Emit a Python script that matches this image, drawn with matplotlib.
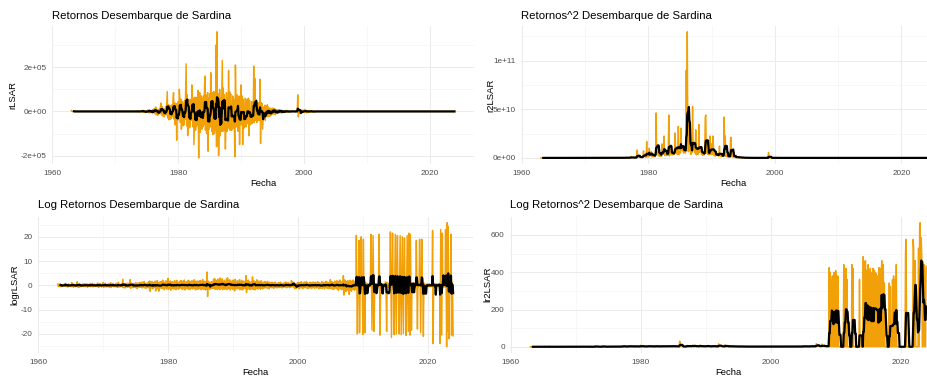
import numpy as np
import pandas as pd
import matplotlib
matplotlib.use("Agg")
import matplotlib.pyplot as plt
import matplotlib.dates as mdates
from matplotlib.ticker import FuncFormatter, MultipleLocator

plt.rcParams["font.family"] = ["Liberation Sans", "DejaVu Sans"]

# monthly series, Jan 1963 - Dec 2023
fecha = pd.date_range("1963-01-01", "2023-12-01", freq="MS")

# sardine landing returns (thousands), one row per year
r_1963_1972 = [4.0] + [0.0] * 119
r_1973_2001 = [
    0, 0, 0, 0, 0, 1, -1, 2, -1, 1, -2, 1,
    2, -1, 3, 4, -3, 5, -4, -2, 3, -5, -1, -2,
    3, -2, 6, 5, -6, 8, -7, 4, -5, -3, 6, -8,
    8, -6, 14, 12, -10, 20, -15, -8, 10, -18, 6, -12,
    12, -8, 20, 38, -15, 22, -20, -10, 14, -25, 8, -16,
    22, -15, 40, 90, -30, 30, -38, -20, 28, -35, 18, -32,
    30, -22, 50, 85, -35, 40, -60, -25, 35, -130, 30, -40,
    45, -30, 100, 60, -50, 55, -80, -30, 45, -65, 35, -60,
    50, -35, 85, 215, -65, 75, -110, -45, 55, -75, 40, -70,
    55, -40, 120, 75, -70, 60, -150, -50, 65, -85, 50, -65,
    65, -50, 95, -210, 45, 85, -95, -55, 70, -80, 55, -70,
    70, -60, 100, 160, -85, 75, -100, -60, 85, -180, 60, -80,
    80, -70, 175, 100, -90, 85, -105, -70, 90, -100, 70, -85,
    300, -160, 360, -150, 80, -200, -85, 100, -110, 60, -90, 75,
    230, -90, 105, -85, 75, -70, -170, -55, 85, -90, 60, -75,
    185, -75, 90, -85, 80, -60, -85, -50, 70, -75, 55, -70,
    -205, 210, 85, -70, 75, -60, -90, -55, 70, -150, 60, -60,
    120, -60, 70, -150, 55, -50, -75, -40, 60, -70, 50, -55,
    55, -40, 60, -110, 50, -40, -60, -35, 45, -55, 40, -50,
    205, -50, 150, -40, 55, -35, -50, -30, 40, -40, 35, -40,
    145, -145, 40, -30, 35, -80, -30, 20, -35, 28, -40, -15,
    25, -20, 30, -25, 20, -18, -22, 15, -20, 12, -15, 10,
    15, -12, 14, -10, 12, -15, -10, 8, -9, 7, -8, 5,
    8, -6, 7, -5, 6, -8, -4, 4, -5, 3, -4, 2,
    3, -2, 3, -2, 2, -3, -1, 2, -2, 1, -1, 1,
    1, -1, 2, -1, 1, -1, -1, 1, -1, 1, 0, 0,
    75, -25, -12, 8, -6, -10, 5, -8, 6, -4, 5, -3,
    6, -5, 8, -4, 5, -7, 3, -4, 5, -3, 4, -2,
    4, -3, 3, -2, 2, -3, 0, 0, 0, 0, 0, 0,
]
r_2002_2023 = [0.0] * 264

# log returns, one row per year
logr_1963_2008 = [
    0.6, -0.4, 0.3, 0.5, -0.6, 0.4, -0.3, 0.2, -0.5, 0.3, -0.2, 0.4,
    -0.3, 0.5, 0.8, -0.6, 0.4, -0.5, 0.3, -0.7, 0.6, -0.2, 0.3, -0.4,
    0.4, -0.6, 1.2, -0.5, 0.7, -0.8, 0.3, -0.4, 0.5, -0.6, 0.2, -0.3,
    1.5, -0.7, 0.6, -0.9, 0.8, -0.5, 0.4, -0.6, 0.3, -0.4, 0.6, -0.5,
    0.5, -0.4, 0.7, -0.6, 0.4, -0.3, 0.6, -0.8, 0.5, -0.2, 0.3, -0.5,
    0.8, -0.6, 0.5, -0.4, 0.9, -0.7, 0.3, -0.5, 0.6, -0.4, 0.2, -0.3,
    0.6, -0.5, 1.0, -0.8, 0.4, -0.6, 0.7, -0.3, 0.5, -0.7, 0.3, -0.4,
    1.2, -0.8, 0.6, -0.5, 0.9, -0.7, 0.4, -0.6, 0.5, -0.3, 0.6, -0.8,
    0.7, -0.5, 1.1, -0.9, 0.5, -0.4, 0.8, -0.6, 0.3, -0.5, 0.4, -0.6,
    0.9, -0.7, 0.6, -0.8, 1.3, -0.6, 0.5, -0.7, 0.4, -0.3, 0.6, -0.5,
    2.5, -1.0, 0.8, -0.9, 0.6, -1.1, 0.7, -0.5, 0.9, -0.8, 0.4, -0.6,
    1.0, -0.8, 2.4, -1.2, 0.9, -0.7, 0.6, -1.0, 0.8, -0.6, 0.5, -0.9,
    1.1, -0.9, 0.8, -1.3, 1.0, -0.6, 0.9, -0.8, 1.2, -0.7, 0.5, -1.0,
    1.4, -1.0, 1.2, -0.8, 1.6, -1.1, 0.7, -1.2, 0.9, -0.6, 1.0, -0.9,
    1.5, -1.2, 1.8, -2.5, 1.3, -0.9, 1.6, -1.4, 0.8, -1.1, 1.2, -0.8,
    1.7, -2.3, 1.4, -1.0, 2.0, -1.5, 1.1, -2.4, 1.3, -0.9, 1.5, -1.2,
    1.6, -1.3, 2.2, -1.1, 1.4, -1.8, 1.2, -0.9, 1.9, -1.5, 1.0, -1.4,
    2.9, -1.6, 1.5, -1.2, 1.8, -2.0, 1.3, -1.1, 1.6, -1.4, 1.2, -1.5,
    1.9, -1.4, 1.6, -1.8, 2.1, -1.2, 1.4, -1.6, 1.1, -1.3, 1.7, -1.0,
    2.0, -1.5, 1.3, -1.7, 1.8, -1.1, 2.2, -1.9, 1.2, -1.4, 1.5, -1.2,
    1.8, -1.6, 2.1, -1.3, 1.5, -1.8, 1.4, -1.2, 1.9, -1.5, 1.1, -1.4,
    2.3, -1.4, 1.7, -1.9, 1.6, -1.2, 1.8, -1.6, 1.3, -1.5, 1.9, -1.1,
    2.0, -1.8, 1.5, -1.3, 2.4, -1.6, 1.2, -1.4, 1.7, -1.9, 1.3, -1.5,
    5.5, -4.6, 1.8, -1.2, 1.4, -1.7, 1.1, -0.9, 1.6, -1.3, 1.2, -1.0,
    2.5, -1.3, 2.8, -1.6, 2.2, -1.4, 1.9, -1.7, 2.6, -1.2, 1.5, -1.8,
    3.0, -1.5, 2.4, -1.1, 2.7, -1.8, 1.6, -1.3, 2.1, -1.6, 1.4, -1.2,
    2.6, -1.7, 3.1, -1.4, 1.9, -1.2, 2.3, -1.9, 1.5, -1.1, 1.8, -1.6,
    2.2, -1.6, 1.7, -2.3, 2.5, -1.3, 1.4, -1.5, 1.9, -1.2, 1.6, -1.4,
    2.4, -1.8, 1.5, -1.2, 2.1, -1.9, 1.3, -1.6, 1.8, -1.1, 1.4, -1.3,
    4.0, -3.0, 1.9, -1.5, 2.2, -1.4, 1.6, -1.8, 1.2, -1.6, 1.5, -1.1,
    3.5, -1.7, 2.0, -1.3, 1.6, -1.9, 1.4, -1.2, 2.3, -1.5, 1.1, -1.4,
    1.8, -1.2, 1.4, -1.6, 1.9, -1.1, 1.3, -1.5, 1.0, -1.2, 1.6, -0.9,
    1.5, -1.1, 1.2, -0.9, 1.7, -1.3, 1.0, -1.4, 1.3, -0.8, 1.1, -1.0,
    1.3, -0.9, 1.1, -1.2, 0.8, -1.0, 1.4, -0.7, 0.9, -1.1, 0.7, -0.8,
    1.2, -1.0, 0.9, -0.7, 1.3, -0.9, 0.8, -1.1, 0.6, -0.8, 1.0, -0.6,
    1.1, -0.8, 1.4, -1.0, 0.7, -0.9, 1.2, -0.6, 0.9, -1.0, 0.5, -0.7,
    2.0, -0.6, 1.5, 1.2, -0.8, 0.9, -1.4, -0.9, 0.6, -1.2, 0.8, -0.7,
    1.3, -1.1, 1.0, -1.4, 1.2, -0.8, 1.5, -1.0, 0.9, -1.3, 1.1, -0.9,
    1.4, -1.0, 1.2, -0.9, 1.6, -1.2, 1.0, -1.3, 0.8, -1.1, 1.3, -0.7,
    1.2, -1.3, 0.9, -1.0, 1.4, -0.8, 1.1, -1.2, 1.3, -0.9, 0.7, -1.1,
    1.5, -0.9, 1.3, -1.4, 1.0, -1.2, 0.8, -1.0, 1.6, -1.3, 1.1, -0.8,
    1.3, -1.5, 1.1, -0.9, 1.7, -1.1, 1.4, -1.2, 0.9, -1.4, 1.2, -1.0,
    2.4, -1.4, 1.6, -1.2, 1.3, -1.7, 1.1, -1.5, 1.8, -1.0, 1.4, -1.3,
    1.9, -1.6, 1.4, -2.0, 1.7, -1.3, 2.2, -1.5, 1.2, -1.8, 1.6, -1.4,
    4.0, -4.0, 2.3, -1.8, 1.9, -2.6, 1.5, -2.1, 2.0, -1.7, 1.4, -3.8,
    2.1, -1.9, 1.8, -2.4, 1.6, -1.5, 2.2, -1.7, 1.4, -2.0, 1.7, -1.3,
]
logr_2009_2023 = [
    20.6, 0.8, -20.0, 1.2, -0.9, 18.5, -19.5, 1.1, -0.7, 20.0, 0.9, -0.6,
    -20.2, 19.0, 1.0, -0.8, -19.5, 1.3, -0.9, 0.6, -0.4, 0.7, -0.5, 0.4,
    0.5, -0.6, 0.8, 21.0, 1.0, -18.5, 0.7, 20.5, -0.8, -19.0, 0.6, -0.5,
    0.7, -0.4, 0.6, -0.5, 0.8, -0.6, 21.0, 1.1, -20.5, 0.9, -0.7, 0.5,
    -0.6, 0.4, -0.5, 0.7, -0.4, 0.6, 1.5, -0.9, -19.0, 1.2, -0.8, 0.6,
    -0.7, 0.9, -0.6, 22.0, 1.2, -21.4, 0.8, 21.5, -1.0, 0.7, -20.3, 1.1,
    21.0, -0.9, -20.0, 1.0, 20.5, -0.8, 1.3, -20.0, 0.9, 20.5, -1.1, -20.3,
    0.8, 20.0, -0.7, -19.8, 1.2, 19.5, -0.9, 1.0, -20.6, 0.7, 20.5, -1.0,
    -19.0, 21.5, -0.8, -20.5, 21.0, 1.1, -18.5, 0.9, -0.7, 0.8, -0.6, 1.0,
    0.6, -0.8, 0.9, 18.5, -0.7, -18.0, 0.8, -0.5, 0.7, 19.0, -0.6, -19.5,
    0.9, 19.0, -0.8, 0.6, -21.0, 1.0, -0.7, 0.5, -0.6, 0.4, -0.5, 0.6,
    -0.4, 0.5, -0.6, 0.7, -0.5, 0.4, -0.6, 0.5, 0.8, 22.6, -24.0, 0.9,
    -0.7, 0.6, -0.5, 0.7, -0.6, 0.5, -0.4, 0.6, -0.5, 0.8, 0.7, -24.0,
    23.0, 0.9, -20.5, 21.5, -0.8, 0.7, -0.6, 0.9, -0.7, 23.0, 0.8, -25.3,
    25.8, -18.8, 24.2, -22.0, 1.1, -0.9, 0.8, 21.0, -20.5, 1.2, -0.8, -20.8,
]

r_lsar = pd.Series(np.array(r_1963_1972 + r_1973_2001 + r_2002_2023, float) * 1e3, index=fecha)
logr_lsar = pd.Series(np.array(logr_1963_2008 + logr_2009_2023, float), index=fecha)

paneles = [
    ("Retornos Desembarque de Sardina", "rLSAR", r_lsar, 2e5, True),
    ("Retornos^2 Desembarque de Sardina", "r2LSAR", r_lsar ** 2, 5e10, True),
    ("Log Retornos Desembarque de Sardina", "logrLSAR", logr_lsar, 10, False),
    ("Log Retornos^2 Desembarque de Sardina", "lr2LSAR", logr_lsar ** 2, 200, False),
]

W, H = 927, 377
# panel boxes in pixels: x0, y0, x1, y1 (y from the top)
cajas = [
    (52.2, 25.5, 473.6, 164.2),
    (521.4, 25.5, 945.5, 164.2),
    (38.0, 216.5, 472.9, 353.0),
    (510.4, 216.5, 945.9, 353.0),
]
ylab_x = [13.3, 490.7, 15.0, 488.3]
titulo_y = [15.7, 15.7, 205.0, 205.0]

fig = plt.figure(figsize=(W / 100, H / 100), dpi=100)

for (titulo, ylab, serie, paso, cientifico), (x0, y0, x1, y1), yx, ty in zip(paneles, cajas, ylab_x, titulo_y):
    ax = fig.add_axes([x0 / W, 1 - y1 / H, (x1 - x0) / W, (y1 - y0) / H])
    media = serie.rolling(6).mean()
    ax.plot(serie.index, serie.values, color="#F2A007", lw=1.05)
    ax.plot(media.index, media.values, color="black", lw=1.6)
    ax.margins(x=0.05, y=0.05)

    ax.xaxis.set_major_locator(mdates.YearLocator(20))
    ax.xaxis.set_minor_locator(mdates.YearLocator(10))
    ax.xaxis.set_major_formatter(mdates.DateFormatter("%Y"))
    ax.yaxis.set_major_locator(MultipleLocator(paso))
    ax.yaxis.set_minor_locator(MultipleLocator(paso / 2))
    if cientifico:
        ax.yaxis.set_major_formatter(FuncFormatter(lambda v, p: f"{v:.0e}"))
    else:
        ax.yaxis.set_major_formatter(FuncFormatter(lambda v, p: f"{v:g}"))

    ax.grid(which="major", color="#EBEBEB", lw=0.75)
    ax.grid(which="minor", color="#F3F3F3", lw=0.45)
    ax.set_axisbelow(True)
    for s in ax.spines.values():
        s.set_visible(False)
    ax.tick_params(which="both", length=0, labelsize=5.9, labelcolor="#4D4D4D", pad=4.0)

    yc = (y0 + y1) / 2
    fig.text(x0 / W, 1 - ty / H, titulo, fontsize=8.2, ha="left", va="center")
    fig.text((x0 + x1) / 2 / W, 1 - (y1 + 19.3) / H, "Fecha", fontsize=6.8, ha="center", va="center")
    fig.text(yx / W, 1 - yc / H, ylab, fontsize=6.8, rotation=90, ha="center", va="center")

fig.savefig("out.png", dpi=100, facecolor="white")
